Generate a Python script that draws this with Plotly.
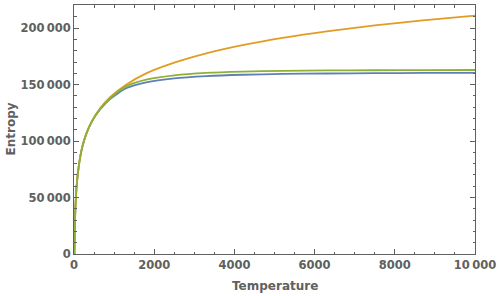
import plotly.graph_objects as go

temperature = [10, 20, 40, 70, 120, 200, 300, 450, 650, 900, 1300, 1800, 2500,
               3300, 4200, 5200, 6300, 7500, 8700, 10000]
entropy_blue = [0, 24000, 45000, 62000, 78000, 93800, 105700, 117500, 128000, 137300,
                146800, 152000, 155600, 157600, 158800, 159500, 159900, 160200, 160400, 160500]
entropy_orange = [0, 24000, 45000, 62000, 78000, 94000, 106000, 118000, 129000, 139000,
                  150000, 160000, 169500, 177800, 185000, 191500, 197300, 202500, 207000, 211100]
entropy_green = [0, 24000, 45000, 62000, 78000, 94000, 106000, 117900, 128500, 138000,
                 148500, 154500, 158300, 160500, 161600, 162200, 162600, 162800, 162900, 163000]

x_tickvals = [0, 2000, 4000, 6000, 8000, 10000]
x_ticktext = ["0", "2000", "4000", "6000", "8000", "10\u2009000"]
y_tickvals = [0, 50000, 100000, 150000, 200000]
y_ticktext = ["0", "50\u2009000", "100\u2009000", "150\u2009000", "200\u2009000"]

colors = ["#5E81B5", "#E19C24", "#8FB032"]
font_family = "DejaVu Sans"
gray = "#606060"

fig = go.Figure()
for ys, c in zip([entropy_blue, entropy_orange, entropy_green], colors):
    fig.add_trace(go.Scatter(x=temperature, y=ys, mode="lines",
                             line=dict(color=c, width=1.8, shape="spline", smoothing=0.6),
                             showlegend=False, hoverinfo="skip"))

axis_common = dict(showgrid=False, zeroline=False, showline=True, linecolor=gray,
                   linewidth=1, mirror="allticks", ticks="inside", tickcolor=gray,
                   tickwidth=1, ticklabeloverflow="allow",
                   tickfont=dict(family=font_family, size=11.5, color=gray,
                                 weight="bold"))

fig.update_xaxes(range=[0, 10000], tickvals=x_tickvals, ticktext=x_ticktext,
                 ticklen=5,
                 minor=dict(dtick=500, tick0=0, ticks="inside", ticklen=2.5,
                            tickcolor=gray, showgrid=False),
                 **axis_common)
fig.update_yaxes(range=[0, 220600], tickvals=y_tickvals, ticktext=y_ticktext,
                 ticklen=5,
                 minor=dict(dtick=10000, tick0=0, ticks="inside", ticklen=2.5,
                            tickcolor=gray, showgrid=False),
                 **axis_common)

fig.update_layout(
    width=500, height=296,
    margin=dict(l=74, r=21, t=4, b=42),
    paper_bgcolor="white", plot_bgcolor="white",
    annotations=[
        dict(text="Temperature", xref="paper", yref="paper", x=0.5, y=0,
             yshift=-32, xanchor="center", yanchor="middle", showarrow=False,
             font=dict(family=font_family, size=12, color=gray, weight="bold")),
        dict(text="Entropy", xref="paper", yref="paper", x=0, y=0.5,
             xshift=-64, textangle=-90, xanchor="center", yanchor="middle",
             showarrow=False,
             font=dict(family=font_family, size=12, color=gray, weight="bold")),
    ],
)

fig.write_html("out.html", config={"displayModeBar": False, "staticPlot": True},
               post_script="document.body.style.margin='0';document.body.style.overflow='hidden';")
